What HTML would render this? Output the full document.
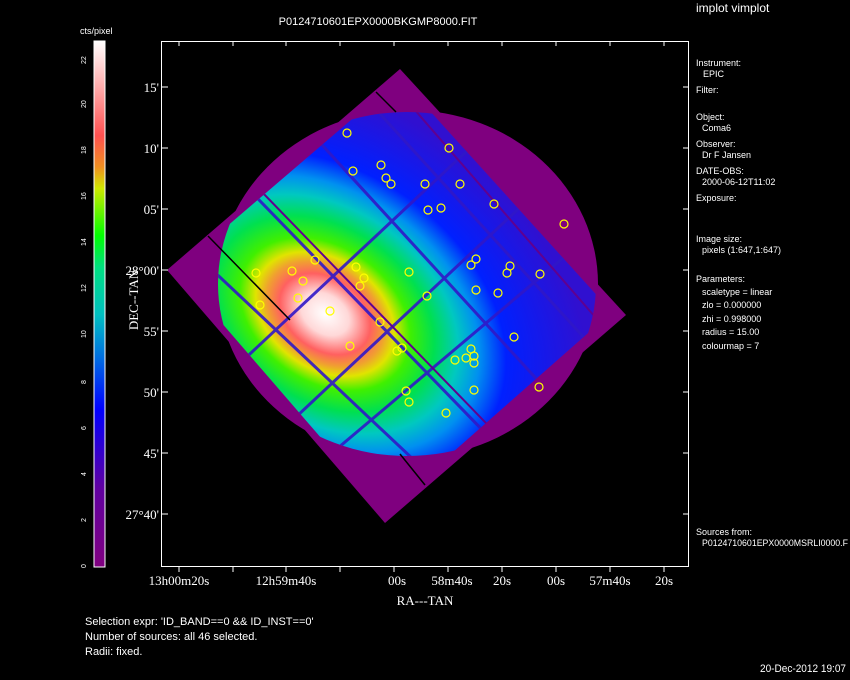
<!DOCTYPE html>
<html><head><style>
body{margin:0;background:#000;width:850px;height:680px;overflow:hidden}
svg{display:block}
text{font-family:"Liberation Sans",sans-serif;fill:#fff}
.s{font-size:9px}
.t{font-family:"Liberation Serif",serif;font-size:13px}
</style></head><body>
<svg width="850" height="680" viewBox="0 0 850 680">
<defs>
<linearGradient id="cb" x1="0" y1="1" x2="0" y2="0">
<stop offset="0" stop-color="#800080"/>
<stop offset="0.15" stop-color="#6000a0"/>
<stop offset="0.3" stop-color="#0000ff"/>
<stop offset="0.4" stop-color="#0070e0"/>
<stop offset="0.48" stop-color="#00c0c0"/>
<stop offset="0.57" stop-color="#00e080"/>
<stop offset="0.63" stop-color="#00ff00"/>
<stop offset="0.72" stop-color="#d0e800"/>
<stop offset="0.76" stop-color="#f09020"/>
<stop offset="0.82" stop-color="#ff5050"/>
<stop offset="0.9" stop-color="#ffa0a0"/>
<stop offset="1" stop-color="#ffffff"/>
</linearGradient>
<radialGradient id="rg" gradientUnits="userSpaceOnUse" cx="0" cy="0" r="1" gradientTransform="translate(325,314) rotate(35) scale(290,210)">
<stop offset="0" stop-color="#ffffff"/>
<stop offset="0.09" stop-color="#ffd8d8"/>
<stop offset="0.17" stop-color="#ff6060"/>
<stop offset="0.22" stop-color="#f0a030"/>
<stop offset="0.26" stop-color="#e0e400"/>
<stop offset="0.32" stop-color="#40f000"/>
<stop offset="0.41" stop-color="#00e050"/>
<stop offset="0.5" stop-color="#00c8c0"/>
<stop offset="0.58" stop-color="#0090f0"/>
<stop offset="0.68" stop-color="#0020ff"/>
<stop offset="1" stop-color="#3010d0"/>
</radialGradient>
<clipPath id="sq"><polygon points="176,270 400,78 612,312 385,512"/></clipPath>
<clipPath id="ci"><ellipse cx="407" cy="284" rx="189" ry="172"/></clipPath>
</defs>
<text x="378" y="25" text-anchor="middle" font-size="11">P0124710601EPX0000BKGMP8000.FIT</text>
<text x="696" y="12" font-size="12">implot vimplot</text>
<text x="80" y="34" class="s">cts/pixel</text>
<rect x="94" y="41" width="11" height="526" fill="url(#cb)" stroke="#fff" stroke-width="1"/>
<g fill="#fff" font-size="7">
<text x="86" y="568" transform="rotate(-90 86 568)">0</text>
<text x="86" y="522" transform="rotate(-90 86 522)">2</text>
<text x="86" y="476" transform="rotate(-90 86 476)">4</text>
<text x="86" y="430" transform="rotate(-90 86 430)">6</text>
<text x="86" y="384" transform="rotate(-90 86 384)">8</text>
<text x="86" y="338" transform="rotate(-90 86 338)">10</text>
<text x="86" y="292" transform="rotate(-90 86 292)">12</text>
<text x="86" y="246" transform="rotate(-90 86 246)">14</text>
<text x="86" y="200" transform="rotate(-90 86 200)">16</text>
<text x="86" y="154" transform="rotate(-90 86 154)">18</text>
<text x="86" y="108" transform="rotate(-90 86 108)">20</text>
<text x="86" y="64" transform="rotate(-90 86 64)">22</text>
</g>
<rect x="161.5" y="41.5" width="527" height="525" fill="none" stroke="#fff"/>
<polygon points="167,270 400,69 626,315 385,523" fill="#7f007f"/>
<ellipse cx="408" cy="284" rx="190" ry="174" fill="#7f007f"/>
<g clip-path="url(#sq)"><g clip-path="url(#ci)">
<rect x="150" y="60" width="500" height="480" fill="url(#rg)"/>
<g stroke="#3018c8" stroke-width="3" opacity="0.9">
<line x1="170" y1="230" x2="520" y2="560"/>
<line x1="230" y1="170" x2="560" y2="510"/>
<line x1="290" y1="110" x2="620" y2="470"/>
<line x1="340" y1="70" x2="650" y2="410"/>
<line x1="250" y1="460" x2="560" y2="170"/>
<line x1="300" y1="480" x2="620" y2="210"/>
<line x1="190" y1="410" x2="500" y2="120"/>
</g>
<g stroke="#600090" stroke-width="2">
<line x1="260" y1="190" x2="580" y2="520"/>
<line x1="380" y1="70" x2="650" y2="380"/>
</g>
</g></g>
<g stroke="#000" stroke-width="1.5">
<line x1="208" y1="236" x2="290" y2="320"/>
<line x1="376" y1="92" x2="396" y2="112"/>
<line x1="400" y1="454" x2="425" y2="485"/>
</g>
<g fill="none" stroke="#ffff00" stroke-width="1.2">
<circle cx="347" cy="133" r="4"/><circle cx="449" cy="148" r="4"/><circle cx="381" cy="165" r="4"/>
<circle cx="353" cy="171" r="4"/><circle cx="386" cy="178" r="4"/><circle cx="391" cy="184" r="4"/>
<circle cx="425" cy="184" r="4"/><circle cx="460" cy="184" r="4"/><circle cx="494" cy="204" r="4"/>
<circle cx="428" cy="210" r="4"/><circle cx="441" cy="208" r="4"/><circle cx="564" cy="224" r="4"/>
<circle cx="471" cy="265" r="4"/><circle cx="476" cy="259" r="4"/><circle cx="510" cy="266" r="4"/>
<circle cx="507" cy="273" r="4"/><circle cx="498" cy="293" r="4"/><circle cx="540" cy="274" r="4"/>
<circle cx="256" cy="273" r="4"/><circle cx="292" cy="271" r="4"/><circle cx="303" cy="281" r="4"/>
<circle cx="356" cy="267" r="4"/><circle cx="364" cy="278" r="4"/><circle cx="360" cy="286" r="4"/>
<circle cx="409" cy="272" r="4"/><circle cx="260" cy="305" r="4"/><circle cx="330" cy="311" r="4"/>
<circle cx="427" cy="296" r="4"/><circle cx="476" cy="290" r="4"/><circle cx="298" cy="298" r="4"/>
<circle cx="380" cy="322" r="4"/><circle cx="350" cy="346" r="4"/><circle cx="397" cy="351" r="4"/>
<circle cx="402" cy="348" r="4"/><circle cx="455" cy="360" r="4"/><circle cx="471" cy="349" r="4"/>
<circle cx="474" cy="356" r="4"/><circle cx="466" cy="358" r="4"/><circle cx="474" cy="363" r="4"/>
<circle cx="514" cy="337" r="4"/><circle cx="406" cy="391" r="4"/><circle cx="409" cy="402" r="4"/>
<circle cx="446" cy="413" r="4"/><circle cx="474" cy="390" r="4"/><circle cx="539" cy="387" r="4"/>
<circle cx="315" cy="260" r="4"/>
</g>
<g stroke="#fff">
<line x1="162" y1="87" x2="168" y2="87"/><line x1="162" y1="148" x2="168" y2="148"/><line x1="162" y1="209" x2="168" y2="209"/><line x1="162" y1="270" x2="168" y2="270"/><line x1="162" y1="331" x2="168" y2="331"/><line x1="162" y1="392" x2="168" y2="392"/><line x1="162" y1="453" x2="168" y2="453"/><line x1="162" y1="514" x2="168" y2="514"/>
<line x1="683" y1="87" x2="688" y2="87"/><line x1="683" y1="148" x2="688" y2="148"/><line x1="683" y1="209" x2="688" y2="209"/><line x1="683" y1="270" x2="688" y2="270"/><line x1="683" y1="331" x2="688" y2="331"/><line x1="683" y1="392" x2="688" y2="392"/><line x1="683" y1="453" x2="688" y2="453"/><line x1="683" y1="514" x2="688" y2="514"/>
<line x1="179" y1="566" x2="179" y2="572"/><line x1="233" y1="566" x2="233" y2="572"/><line x1="286" y1="566" x2="286" y2="572"/><line x1="340" y1="566" x2="340" y2="572"/><line x1="394" y1="566" x2="394" y2="572"/><line x1="448" y1="566" x2="448" y2="572"/><line x1="502" y1="566" x2="502" y2="572"/><line x1="556" y1="566" x2="556" y2="572"/><line x1="610" y1="566" x2="610" y2="572"/><line x1="664" y1="566" x2="664" y2="572"/>
<line x1="179" y1="41" x2="179" y2="46"/><line x1="233" y1="41" x2="233" y2="46"/><line x1="286" y1="41" x2="286" y2="46"/><line x1="340" y1="41" x2="340" y2="46"/><line x1="394" y1="41" x2="394" y2="46"/><line x1="448" y1="41" x2="448" y2="46"/><line x1="502" y1="41" x2="502" y2="46"/><line x1="556" y1="41" x2="556" y2="46"/><line x1="610" y1="41" x2="610" y2="46"/><line x1="664" y1="41" x2="664" y2="46"/>
</g>
<g class="t" text-anchor="end">
<text x="159" y="92" class="t">15'</text><text x="159" y="153" class="t">10'</text><text x="159" y="214" class="t">05'</text><text x="159" y="275" class="t">28°00'</text><text x="159" y="336" class="t">55'</text><text x="159" y="397" class="t">50'</text><text x="159" y="458" class="t">45'</text><text x="159" y="519" class="t">27°40'</text>
</g>
<text x="138" y="300" class="t" transform="rotate(-90 138 300)" text-anchor="middle">DEC--TAN</text>
<g class="t" text-anchor="middle">
<text x="179" y="585" class="t">13h00m20s</text><text x="286" y="585" class="t">12h59m40s</text><text x="397" y="585" class="t">00s</text><text x="452" y="585" class="t">58m40s</text><text x="502" y="585" class="t">20s</text><text x="556" y="585" class="t">00s</text><text x="610" y="585" class="t">57m40s</text><text x="664" y="585" class="t">20s</text>
</g>
<text x="425" y="605" class="t" text-anchor="middle">RA---TAN</text>
<g font-size="11">
<text x="85" y="625">Selection expr: 'ID_BAND==0 &amp;&amp; ID_INST==0'</text>
<text x="85" y="640">Number of sources: all 46 selected.</text>
<text x="85" y="655">Radii: fixed.</text>
<text x="760" y="672" textLength="86" lengthAdjust="spacingAndGlyphs">20-Dec-2012 19:07</text>
</g>
<g class="s">
<text x="696" y="66">Instrument:</text><text x="703" y="77">EPIC</text>
<text x="696" y="93">Filter:</text>
<text x="696" y="120">Object:</text><text x="702" y="131">Coma6</text>
<text x="696" y="147">Observer:</text><text x="702" y="158">Dr F Jansen</text>
<text x="696" y="174">DATE-OBS:</text><text x="702" y="185">2000-06-12T11:02</text>
<text x="696" y="201">Exposure:</text>
<text x="696" y="242">Image size:</text><text x="702" y="253">pixels (1:647,1:647)</text>
<text x="696" y="282">Parameters:</text>
<text x="702" y="295">scaletype = linear</text><text x="702" y="308">zlo = 0.000000</text><text x="702" y="322">zhi = 0.998000</text><text x="702" y="335">radius = 15.00</text><text x="702" y="349">colourmap = 7</text>
<text x="696" y="535">Sources from:</text><text x="702" y="546" textLength="146" lengthAdjust="spacingAndGlyphs">P0124710601EPX0000MSRLI0000.F</text>
</g>
</svg>
</body></html>
